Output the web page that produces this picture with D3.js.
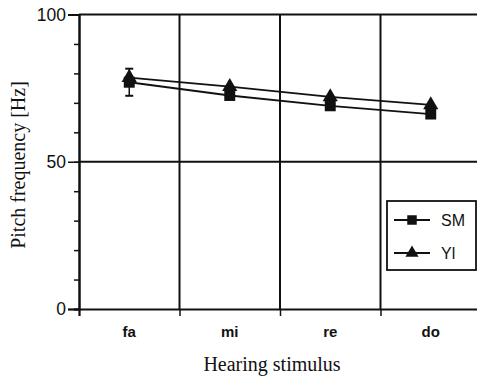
<!DOCTYPE html>
<html>
<head>
<meta charset="utf-8">
<script src="https://cdn.jsdelivr.net/npm/d3@7"></script>
<style>
  html, body { margin: 0; padding: 0; background: #fff; }
  svg { display: block; }
</style>
</head>
<body>
<svg id="chart" width="477" height="376"></svg>
<script>
// Pitch frequency per hearing stimulus, two speakers
const categories = ["fa", "mi", "re", "do"];
const smValues = [77, 72.5, 69, 66.2];
const yiValues = [78.6, 75.5, 72, 69.3];
const smError = [4.6, 0, 0, 0];
const yTickLabels = [0, 50, 100];
const yMinorTicks = [0, 10, 20, 30, 40, 50, 60, 70, 80, 90, 100];

const svg = d3.select("#chart");
const plotLeft = 79, plotRight = 481, plotTop = 14.5, plotBottom = 309;

const x = d3.scaleBand().domain(categories).range([plotLeft, plotRight]).padding(0);
const y = d3.scaleLinear().domain([0, 100]).range([plotBottom, plotTop]);

const ink = "#111";

// Grid: vertical separators between stimuli and horizontal rule at 50 / 100
const g = svg.append("g");
const bounds = categories.map(c => x(c)).concat([plotRight]);
g.selectAll("line.v").data(bounds.slice(1)).join("line")
  .attr("x1", d => d).attr("x2", d => d)
  .attr("y1", y(100)).attr("y2", y(0))
  .attr("stroke", ink).attr("stroke-width", 2);
g.selectAll("line.h").data([50, 100]).join("line")
  .attr("x1", plotLeft).attr("x2", plotRight)
  .attr("y1", d => y(d)).attr("y2", d => y(d))
  .attr("stroke", ink).attr("stroke-width", 2);

// Y axis: minor ticks every 10, long ticks with labels at 0/50/100
const yAxisMinor = d3.axisLeft(y).tickValues(yMinorTicks).tickSize(5).tickFormat("");
const ya = svg.append("g").attr("transform", `translate(${plotLeft},0)`).call(yAxisMinor);
const yAxisMajor = d3.axisLeft(y).tickValues(yTickLabels).tickSize(11).tickPadding(2);
const yb = svg.append("g").attr("transform", `translate(${plotLeft},0)`).call(yAxisMajor);
[ya, yb].forEach(a => {
  a.select(".domain").attr("stroke", ink).attr("stroke-width", 2);
  a.selectAll(".tick line").attr("stroke", ink).attr("stroke-width", 1.5);
});
yb.selectAll(".tick text")
  .attr("font-family", "Liberation Sans, Arial, sans-serif")
  .attr("font-size", 17.5).attr("fill", ink);

// X axis: ticks at stimulus boundaries, labels centred in each band
const xBound = d3.scaleLinear().domain([plotLeft, plotRight]).range([plotLeft, plotRight]);
const xa = svg.append("g").attr("transform", `translate(0,${plotBottom})`)
  .call(d3.axisBottom(xBound).tickValues(bounds.slice(0, 4)).tickSize(7).tickFormat(""));
xa.select(".domain").attr("stroke", ink).attr("stroke-width", 2);
xa.selectAll(".tick line").attr("stroke", ink).attr("stroke-width", 1.5);

svg.append("g").selectAll("text").data(categories).join("text")
  .attr("x", d => x(d) + x.bandwidth() / 2)
  .attr("y", 337)
  .attr("text-anchor", "middle")
  .attr("font-family", "Liberation Sans, Arial, sans-serif")
  .attr("font-size", 15).attr("font-weight", "bold").attr("fill", ink)
  .text(d => d);

// Axis titles
svg.append("text")
  .attr("x", 272).attr("y", 371)
  .attr("text-anchor", "middle")
  .attr("font-family", "Liberation Serif, Times New Roman, serif")
  .attr("font-size", 20).attr("fill", ink)
  .text("Hearing stimulus");
svg.append("text")
  .attr("transform", "translate(25,165) rotate(-90)")
  .attr("text-anchor", "middle")
  .attr("font-family", "Liberation Serif, Times New Roman, serif")
  .attr("font-size", 20).attr("fill", ink)
  .text("Pitch frequency [Hz]");

// Series
const cx = d => x(d) + x.bandwidth() / 2;
const line = d3.line().x(d => cx(d.c)).y(d => y(d.v));
const smData = categories.map((c, i) => ({ c, v: smValues[i], e: smError[i] }));
const yiData = categories.map((c, i) => ({ c, v: yiValues[i] }));

[yiData, smData].forEach(data => {
  svg.append("path").datum(data).attr("d", line)
    .attr("fill", "none").attr("stroke", ink).attr("stroke-width", 1.8);
});

// Error bars for SM
const eb = svg.append("g").selectAll("g").data(smData.filter(d => d.e > 0)).join("g");
eb.append("line")
  .attr("x1", d => cx(d.c)).attr("x2", d => cx(d.c))
  .attr("y1", d => y(d.v + d.e)).attr("y2", d => y(d.v - d.e))
  .attr("stroke", ink).attr("stroke-width", 1.5);
eb.selectAll("line.cap").data(d => [d.v + d.e, d.v - d.e].map(v => ({ c: d.c, v }))).join("line")
  .attr("x1", d => cx(d.c) - 4).attr("x2", d => cx(d.c) + 4)
  .attr("y1", d => y(d.v)).attr("y2", d => y(d.v))
  .attr("stroke", ink).attr("stroke-width", 2);

const tri = d3.symbol().type(d3.symbolTriangle).size(100);
const sq = d3.symbol().type(d3.symbolSquare).size(120);

svg.append("g").selectAll("path").data(yiData).join("path")
  .attr("d", tri)
  .attr("transform", d => `translate(${cx(d.c)},${y(d.v)})`)
  .attr("fill", ink);
svg.append("g").selectAll("path").data(smData).join("path")
  .attr("d", sq)
  .attr("transform", d => `translate(${cx(d.c)},${y(d.v)})`)
  .attr("fill", ink);

// Legend
const lg = svg.append("g");
lg.append("rect").attr("x", 387).attr("y", 201).attr("width", 89).attr("height", 69)
  .attr("fill", "#fff").attr("stroke", ink).attr("stroke-width", 1.8);
const entries = [
  { name: "SM", sym: d3.symbol().type(d3.symbolSquare).size(90), yy: 220 },
  { name: "Yl", sym: d3.symbol().type(d3.symbolTriangle).size(75), yy: 253 }
];
entries.forEach(e => {
  lg.append("line").attr("x1", 394).attr("x2", 430).attr("y1", e.yy).attr("y2", e.yy)
    .attr("stroke", ink).attr("stroke-width", 1.8);
  lg.append("path").attr("d", e.sym())
    .attr("transform", `translate(412,${e.yy})`).attr("fill", ink);
  lg.append("text").attr("x", 441).attr("y", e.yy + 6)
    .attr("font-family", "Liberation Sans, Arial, sans-serif")
    .attr("font-size", 16).attr("fill", ink)
    .text(e.name);
});
</script>
</body>
</html>
